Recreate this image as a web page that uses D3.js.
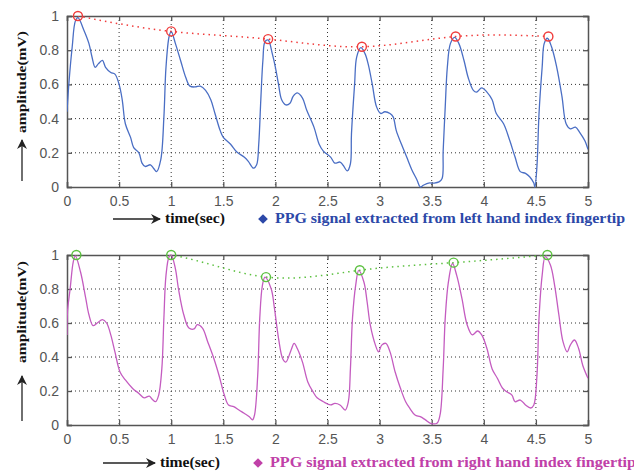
<!DOCTYPE html>
<html>
<head>
<meta charset="utf-8">
<script src="https://cdn.jsdelivr.net/npm/d3@7"></script>
<style>
  body { margin: 0; background: #fff; }
  svg { display: block; }
  .tick text { font-family: "Liberation Sans", Arial, sans-serif; font-size: 14px; fill: #555; }
</style>
</head>
<body>
<script>
////// data

// left hand (top panel)
const leftT = [0, 0.02, 0.05, 0.08, 0.105, 0.16, 0.21, 0.24, 0.27, 0.30, 0.34, 0.37, 0.42, 0.46, 0.50, 0.53, 0.56, 0.61, 0.64, 0.69, 0.72, 0.75, 0.80, 0.83, 0.86, 0.90, 0.93, 0.95, 0.98, 1.0,
  1.04, 1.09, 1.14, 1.18, 1.23, 1.28, 1.33, 1.38, 1.42, 1.47, 1.50, 1.57, 1.63, 1.70, 1.74, 1.79, 1.82, 1.84, 1.86, 1.88, 1.90, 1.93,
  1.97, 2.0, 2.03, 2.06, 2.10, 2.14, 2.17, 2.21, 2.26, 2.30, 2.37, 2.42, 2.46, 2.53, 2.57, 2.62, 2.65, 2.69, 2.72, 2.73, 2.76, 2.78, 2.82,
  2.86, 2.89, 2.93, 2.97, 3.01, 3.05, 3.10, 3.13, 3.16, 3.21, 3.26, 3.31, 3.36, 3.39, 3.42, 3.47, 3.52, 3.57, 3.60, 3.61, 3.63, 3.65, 3.68, 3.72,
  3.76, 3.81, 3.85, 3.90, 3.93, 3.98, 4.03, 4.08, 4.12, 4.19, 4.25, 4.30, 4.35, 4.40, 4.44, 4.48, 4.49, 4.51, 4.53, 4.56, 4.58, 4.61,
  4.65, 4.70, 4.75, 4.79, 4.83, 4.88, 4.92, 4.97, 5.0];
const leftV = [0.44, 0.62, 0.82, 0.97, 0.99, 0.92, 0.84, 0.76, 0.70, 0.72, 0.74, 0.70, 0.67, 0.66, 0.60, 0.51, 0.37, 0.29, 0.23, 0.20, 0.14, 0.12, 0.13, 0.11, 0.09, 0.16, 0.41, 0.70, 0.88, 0.91,
  0.84, 0.74, 0.64, 0.59, 0.585, 0.59, 0.565, 0.51, 0.43, 0.33, 0.29, 0.25, 0.205, 0.175, 0.15, 0.11, 0.13, 0.25, 0.51, 0.74, 0.85, 0.86,
  0.78, 0.70, 0.60, 0.51, 0.48, 0.49, 0.53, 0.55, 0.52, 0.45, 0.35, 0.25, 0.21, 0.175, 0.14, 0.146, 0.127, 0.094, 0.136, 0.31, 0.60, 0.76, 0.815,
  0.78, 0.72, 0.60, 0.47, 0.43, 0.44, 0.43, 0.41, 0.33, 0.25, 0.175, 0.10, 0.04, 0.0, 0.01, 0.023, 0.023, 0.03, 0.05, 0.21, 0.47, 0.70, 0.84, 0.875,
  0.84, 0.74, 0.64, 0.565, 0.555, 0.58, 0.555, 0.51, 0.43, 0.37, 0.27, 0.175, 0.09, 0.08, 0.06, 0.023, 0.0, 0.12, 0.43, 0.70, 0.84, 0.87,
  0.82, 0.70, 0.53, 0.37, 0.34, 0.35, 0.32, 0.27, 0.22];
const leftPeakT = [0.105, 1.0, 1.93, 2.83, 3.73, 4.62];
const leftPeakV = [1.0, 0.91, 0.865, 0.82, 0.88, 0.88];

// right hand (bottom panel)
const rightT = [0, 0.005, 0.03, 0.06, 0.08, 0.13, 0.18, 0.21, 0.25, 0.29, 0.34, 0.38, 0.42, 0.46, 0.51, 0.56, 0.63, 0.69, 0.74, 0.79, 0.82, 0.85, 0.88, 0.91, 0.93, 0.95, 0.98, 1.0,
  1.04, 1.07, 1.12, 1.17, 1.22, 1.25, 1.30, 1.35, 1.41, 1.46, 1.51, 1.55, 1.60, 1.65, 1.70, 1.75, 1.78, 1.80, 1.83, 1.85, 1.875, 1.90,
  1.96, 1.99, 2.03, 2.07, 2.10, 2.15, 2.18, 2.21, 2.26, 2.31, 2.36, 2.40, 2.46, 2.53, 2.57, 2.62, 2.67, 2.70, 2.72, 2.74, 2.77, 2.80,
  2.85, 2.88, 2.91, 2.96, 2.99, 3.02, 3.06, 3.10, 3.15, 3.20, 3.25, 3.29, 3.34, 3.39, 3.44, 3.49, 3.55, 3.58, 3.61, 3.63, 3.66, 3.70,
  3.74, 3.79, 3.84, 3.89, 3.94, 3.98, 4.03, 4.08, 4.13, 4.18, 4.22, 4.27, 4.30, 4.35, 4.40, 4.45, 4.48, 4.51, 4.53, 4.56, 4.59,
  4.64, 4.68, 4.72, 4.76, 4.80, 4.83, 4.87, 4.91, 4.95, 5.0];
const rightV = [0.53, 0.67, 0.80, 0.96, 0.995, 0.90, 0.745, 0.65, 0.585, 0.60, 0.62, 0.60, 0.53, 0.43, 0.31, 0.265, 0.215, 0.186, 0.16, 0.17, 0.15, 0.137, 0.176, 0.33, 0.63, 0.88, 0.99, 1.0,
  0.92, 0.80, 0.65, 0.57, 0.565, 0.59, 0.57, 0.49, 0.39, 0.29, 0.176, 0.118, 0.108, 0.088, 0.069, 0.049, 0.03, 0.06, 0.29, 0.63, 0.82, 0.87,
  0.80, 0.69, 0.51, 0.39, 0.37, 0.44, 0.48, 0.45, 0.37, 0.255, 0.196, 0.16, 0.137, 0.118, 0.127, 0.118, 0.088, 0.137, 0.33, 0.63, 0.82, 0.91,
  0.84, 0.725, 0.59, 0.47, 0.43, 0.47, 0.48, 0.43, 0.31, 0.216, 0.137, 0.098, 0.059, 0.049, 0.03, 0.01, 0.01, 0.059, 0.33, 0.63, 0.84, 0.95,
  0.88, 0.745, 0.59, 0.53, 0.553, 0.53, 0.45, 0.33, 0.275, 0.216, 0.196, 0.176, 0.137, 0.147, 0.118, 0.10, 0.118, 0.29, 0.63, 0.88, 0.99,
  0.94, 0.82, 0.65, 0.49, 0.43, 0.47, 0.50, 0.45, 0.35, 0.275];
const rightPeakT = [0.09, 1.0, 1.91, 2.81, 3.71, 4.61];
const rightPeakV = [1.0, 1.0, 0.87, 0.91, 0.955, 1.0];

const xTicks = [0, 0.5, 1, 1.5, 2, 2.5, 3, 3.5, 4, 4.5, 5];
const yTicks = [0, 0.2, 0.4, 0.6, 0.8, 1];

//////

const W = 634, H = 473;
const serif = "'Liberation Serif', 'Times New Roman', serif";
const svg = d3.select("body").append("svg")
    .attr("width", W)
    .attr("height", H);

const defs = svg.append("defs");
defs.append("marker")
    .attr("id", "arrow")
    .attr("viewBox", "0 0 10 10")
    .attr("refX", 9).attr("refY", 5)
    .attr("markerWidth", 10).attr("markerHeight", 10)
    .attr("markerUnits", "userSpaceOnUse")
    .attr("orient", "auto")
    .append("path")
    .attr("d", "M0,0 L10,5 L0,10 L3,5 Z")
    .attr("fill", "#222");

function panel(cfg) {
    const x = d3.scaleLinear().domain([0, 5]).range([67, 588]);
    const y = d3.scaleLinear().domain([0, 1]).range([cfg.bottom, cfg.top]);
    const g = svg.append("g");

    // clip signal to plot box; envelope is clipped at the top edge too
    defs.append("clipPath").attr("id", cfg.id)
        .append("rect")
        .attr("x", 67).attr("y", cfg.top - 6)
        .attr("width", 521).attr("height", cfg.bottom - cfg.top + 12);
    defs.append("clipPath").attr("id", cfg.id + "E")
        .append("rect")
        .attr("x", 67).attr("y", cfg.top)
        .attr("width", 521).attr("height", cfg.bottom - cfg.top);

    // dotted grid
    g.append("g").selectAll("line").data(xTicks.slice(1, -1)).join("line")
        .attr("x1", d => x(d)).attr("x2", d => x(d))
        .attr("y1", cfg.top).attr("y2", cfg.bottom)
        .attr("stroke", "#333").attr("stroke-width", 1).attr("stroke-dasharray", "1,3");
    g.append("g").selectAll("line").data(yTicks.slice(1, -1)).join("line")
        .attr("x1", 67).attr("x2", 588)
        .attr("y1", d => y(d)).attr("y2", d => y(d))
        .attr("stroke", "#333").attr("stroke-width", 1).attr("stroke-dasharray", "1,3");

    // axes (matlab style, ticks inside on all sides)
    g.append("g").attr("transform", `translate(0,${cfg.bottom})`)
        .call(d3.axisBottom(x).tickValues(xTicks).tickSize(-5).tickPadding(9).tickFormat(d3.format("")));
    g.append("g").attr("transform", `translate(0,${cfg.top})`)
        .call(d3.axisTop(x).tickValues(xTicks).tickSize(-5).tickFormat(""));
    g.append("g").attr("transform", "translate(67,0)")
        .call(d3.axisLeft(y).tickValues(yTicks).tickSize(-5).tickPadding(8).tickFormat(d3.format("")));
    g.append("g").attr("transform", "translate(588,0)")
        .call(d3.axisRight(y).tickValues(yTicks).tickSize(-5).tickFormat(""));
    g.selectAll(".domain").attr("stroke", "#555").attr("stroke-width", 1.5);
    g.selectAll(".tick line").attr("stroke", "#555").attr("stroke-width", 1.3);

    // signal
    const pts = cfg.t.map((d, i) => [d, cfg.v[i]]);
    g.append("path")
        .attr("clip-path", `url(#${cfg.id})`)
        .attr("d", d3.line().x(d => x(d[0])).y(d => y(d[1])).curve(d3.curveCatmullRom)(pts))
        .attr("fill", "none")
        .attr("stroke", cfg.color)
        .attr("stroke-width", 1.3);

    // peak envelope
    const pk = cfg.pt.map((d, i) => [d, cfg.pv[i]]);
    g.append("path")
        .attr("clip-path", `url(#${cfg.id}E)`)
        .attr("d", d3.line().x(d => x(d[0])).y(d => y(d[1])).curve(d3.curveNatural)(pk))
        .attr("fill", "none")
        .attr("stroke", cfg.peakColor)
        .attr("stroke-width", 1.5)
        .attr("stroke-dasharray", "1.5,4");
    g.append("g").selectAll("circle").data(pk).join("circle")
        .attr("cx", d => x(d[0])).attr("cy", d => y(d[1]))
        .attr("r", 4.5)
        .attr("fill", "none")
        .attr("stroke", cfg.peakColor)
        .attr("stroke-width", 1.4);

    // y label + arrow
    svg.append("text")
        .attr("transform", `translate(26,${cfg.labelY}) rotate(-90)`)
        .attr("text-anchor", "middle")
        .attr("font-family", serif)
        .attr("font-weight", "bold")
        .attr("font-size", 13)
        .attr("textLength", 102)
        .attr("lengthAdjust", "spacingAndGlyphs")
        .attr("fill", "#111")
        .text("amplitude(mV)");
    svg.append("line")
        .attr("x1", 22).attr("x2", 22)
        .attr("y1", cfg.arrowY[0]).attr("y2", cfg.arrowY[1])
        .attr("stroke", "#222").attr("stroke-width", 1.3)
        .attr("marker-end", "url(#arrow)");

    // x label + arrow
    svg.append("line")
        .attr("x1", cfg.xArrow[0]).attr("x2", cfg.xArrow[1])
        .attr("y1", cfg.xlabY - 4).attr("y2", cfg.xlabY - 4)
        .attr("stroke", "#222").attr("stroke-width", 1.3)
        .attr("marker-end", "url(#arrow)");
    svg.append("text")
        .attr("x", cfg.xArrow[1] + 5).attr("y", cfg.xlabY)
        .attr("font-family", serif)
        .attr("font-weight", "bold")
        .attr("font-size", 14)
        .attr("textLength", 60)
        .attr("lengthAdjust", "spacingAndGlyphs")
        .attr("fill", "#111")
        .text("time(sec)");

    // legend
    svg.append("path")
        .attr("d", d3.symbol(d3.symbolDiamond2, 60)())
        .attr("transform", `translate(${cfg.legX},${cfg.xlabY - 4})`)
        .attr("fill", cfg.legColor);
    svg.append("text")
        .attr("x", cfg.legX + 12).attr("y", cfg.xlabY)
        .attr("font-family", serif)
        .attr("font-weight", "bold")
        .attr("font-size", 14)
        .attr("textLength", cfg.legLen)
        .attr("lengthAdjust", "spacingAndGlyphs")
        .attr("fill", cfg.legColor)
        .text(cfg.legend);
}

panel({
    id: "clipTop", top: 16, bottom: 187,
    t: leftT, v: leftV, pt: leftPeakT, pv: leftPeakV,
    color: "#4a6ec4", peakColor: "#f03c3c",
    labelY: 82, arrowY: [181, 140],
    xArrow: [113, 160], xlabY: 223,
    legX: 263, legColor: "#2c48a8", legLen: 350,
    legend: "PPG signal extracted from left hand index fingertip"
});

panel({
    id: "clipBot", top: 255, bottom: 425,
    t: rightT, v: rightV, pt: rightPeakT, pv: rightPeakV,
    color: "#c45cc0", peakColor: "#5cc040",
    labelY: 312, arrowY: [421, 376],
    xArrow: [103, 155], xlabY: 467,
    legX: 258, legColor: "#c040a8", legLen: 366,
    legend: "PPG signal extracted from right hand index fingertip"
});
</script>
</body>
</html>
